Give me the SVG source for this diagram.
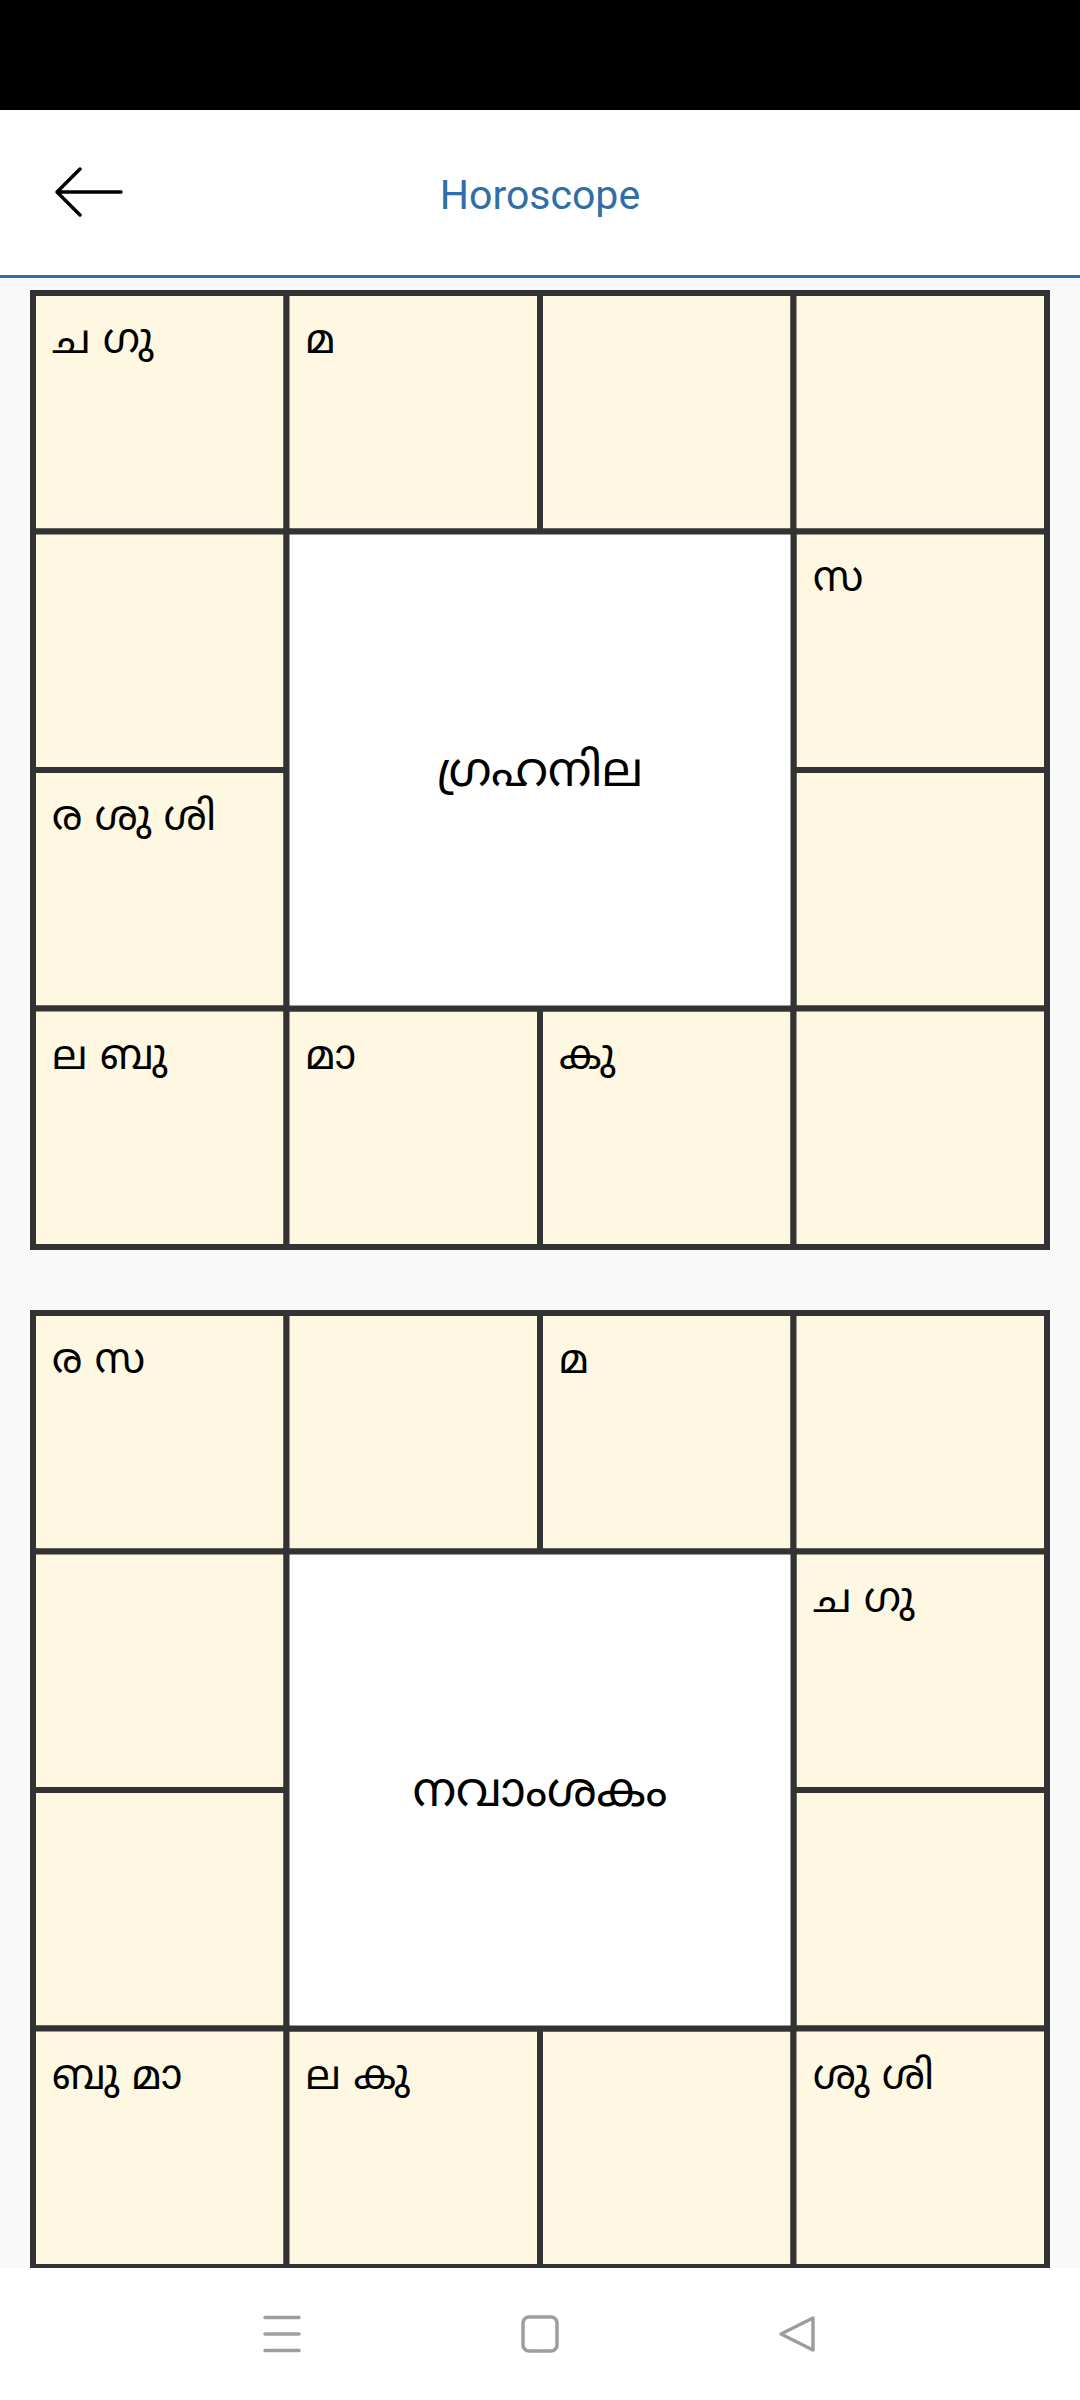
<svg xmlns="http://www.w3.org/2000/svg" width="1080" height="2400" viewBox="0 0 1080 2400">
<style>
.cell{fill:#fef8e2;stroke:#333333;stroke-width:6}
.center{fill:#ffffff;stroke:#333333;stroke-width:6}
.t{font-family:"Noto Sans Malayalam","Noto Sans","DejaVu Sans",sans-serif;font-size:41px;fill:#000000}
.ct{font-family:"Noto Sans Malayalam","Noto Sans","DejaVu Sans",sans-serif;font-size:47.5px;fill:#000000;text-anchor:middle}
.nav{fill:none;stroke:#9e9e9e;stroke-width:3.5;stroke-linejoin:round;stroke-linecap:round}
</style>
<rect x="0" y="0" width="1080" height="2400" fill="#f9f9f9"/>
<g id="statusbar"><rect x="0" y="0" width="1080" height="110" fill="#000000"/></g>
<g id="header">
<rect x="0" y="110" width="1080" height="165" fill="#ffffff"/>
<rect x="0" y="275" width="1080" height="3" fill="#2f6ea6"/>
<path d="M121 192 H57 M80 169 L57 192 L80 215" fill="none" stroke="#000000" stroke-width="3.5" stroke-linecap="round" stroke-linejoin="round"/>
<text x="540" y="209" font-family="Roboto,'Liberation Sans',sans-serif" font-size="41" fill="#2f6ea6" text-anchor="middle">Horoscope</text>
</g>

<g id="chart-grahanila">
<g id="g1-r0c0"><rect class="cell" x="33" y="293" width="253.5" height="238.5"/><text class="t" x="52" y="353">ച ഗു</text></g>
<g id="g1-r0c1"><rect class="cell" x="286.5" y="293" width="253.5" height="238.5"/><text class="t" x="305.5" y="353">മ</text></g>
<g id="g1-r0c2"><rect class="cell" x="540" y="293" width="253.5" height="238.5"/></g>
<g id="g1-r0c3"><rect class="cell" x="793.5" y="293" width="253.5" height="238.5"/></g>
<g id="g1-r1c0"><rect class="cell" x="33" y="531.5" width="253.5" height="238.5"/></g>
<g id="g1-r1c3"><rect class="cell" x="793.5" y="531.5" width="253.5" height="238.5"/><text class="t" x="813" y="591">സ</text></g>
<g id="g1-r2c0"><rect class="cell" x="33" y="770" width="253.5" height="238.5"/><text class="t" x="52" y="830">ര ശു ശി</text></g>
<g id="g1-r2c3"><rect class="cell" x="793.5" y="770" width="253.5" height="238.5"/></g>
<g id="g1-r3c0"><rect class="cell" x="33" y="1008.5" width="253.5" height="238.5"/><text class="t" x="52" y="1068.5">ല ബു</text></g>
<g id="g1-r3c1"><rect class="cell" x="286.5" y="1008.5" width="253.5" height="238.5"/><text class="t" x="305.5" y="1068.5">മാ</text></g>
<g id="g1-r3c2"><rect class="cell" x="540" y="1008.5" width="253.5" height="238.5"/><text class="t" x="559" y="1068.5">കു</text></g>
<g id="g1-r3c3"><rect class="cell" x="793.5" y="1008.5" width="253.5" height="238.5"/></g>
<g id="g1-center"><rect class="center" x="286.5" y="531.5" width="507" height="477"/><text class="ct" x="540" y="786">ഗ്രഹനില</text></g>
</g>

<g id="chart-navamsakam">
<g id="g2-r0c0"><rect class="cell" x="33" y="1313" width="253.5" height="238.5"/><text class="t" x="52" y="1373">ര സ</text></g>
<g id="g2-r0c1"><rect class="cell" x="286.5" y="1313" width="253.5" height="238.5"/></g>
<g id="g2-r0c2"><rect class="cell" x="540" y="1313" width="253.5" height="238.5"/><text class="t" x="559" y="1373">മ</text></g>
<g id="g2-r0c3"><rect class="cell" x="793.5" y="1313" width="253.5" height="238.5"/></g>
<g id="g2-r1c0"><rect class="cell" x="33" y="1551.5" width="253.5" height="238.5"/></g>
<g id="g2-r1c3"><rect class="cell" x="793.5" y="1551.5" width="253.5" height="238.5"/><text class="t" x="813" y="1611.5">ച ഗു</text></g>
<g id="g2-r2c0"><rect class="cell" x="33" y="1790" width="253.5" height="238.5"/></g>
<g id="g2-r2c3"><rect class="cell" x="793.5" y="1790" width="253.5" height="238.5"/></g>
<g id="g2-r3c0"><rect class="cell" x="33" y="2028.5" width="253.5" height="238.5"/><text class="t" x="52" y="2088.5">ബു മാ</text></g>
<g id="g2-r3c1"><rect class="cell" x="286.5" y="2028.5" width="253.5" height="238.5"/><text class="t" x="305.5" y="2088.5">ല കു</text></g>
<g id="g2-r3c2"><rect class="cell" x="540" y="2028.5" width="253.5" height="238.5"/></g>
<g id="g2-r3c3"><rect class="cell" x="793.5" y="2028.5" width="253.5" height="238.5"/><text class="t" x="813" y="2088.5">ശു ശി</text></g>
<g id="g2-center"><rect class="center" x="286.5" y="1551.5" width="507" height="477"/><text class="ct" x="540" y="1806">നവാംശകം</text></g>
</g>

<g id="connectors"></g>

<g id="navbar">
<rect x="0" y="2268" width="1080" height="132" fill="#ffffff"/>
<path class="nav" d="M265 2317.5 H299 M265 2334 H299 M265 2350.5 H299" stroke-linecap="butt"/>
<rect class="nav" x="523" y="2317" width="34" height="34" rx="6"/>
<path class="nav" d="M813 2318 L781 2334 L813 2350 Z"/>
</g>
</svg>
